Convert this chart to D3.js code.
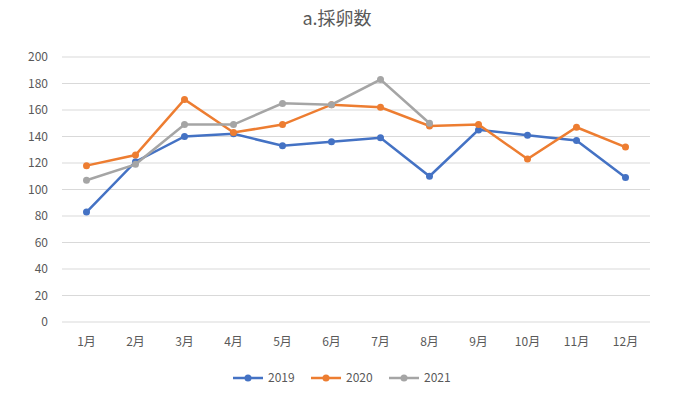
<!DOCTYPE html>
<html><head><meta charset="utf-8">
<script src="https://cdn.jsdelivr.net/npm/d3@7"></script>
<style>body{margin:0;background:#fff;font-family:"Noto Sans CJK JP","Noto Sans",sans-serif;}</style>
</head><body><svg width="674" height="402"></svg>
<script>
const months = ["1月","2月","3月","4月","5月","6月","7月","8月","9月","10月","11月","12月"];
const s2019 = [83,121,140,142,133,136,139,110,145,141,137,109];
const s2020 = [118,126,168,143,149,164,162,148,149,123,147,132];
const s2021 = [107,119,149,149,165,164,183,150];
const yTicks = [0,20,40,60,80,100,120,140,160,180,200];
const series = [
  {name:"2019", values:s2019, color:"#4472c4"},
  {name:"2020", values:s2020, color:"#ed7d31"},
  {name:"2021", values:s2021, color:"#a5a5a5"}
];

const svg = d3.select("svg");
const plotLeft = 62, plotRight = 650, plotTop = 57, plotBottom = 322;

const x = d3.scaleBand().domain(months).range([plotLeft, plotRight]);
const y = d3.scaleLinear().domain([0, 200]).range([plotBottom, plotTop]);

svg.append("text").attr("x", 337).attr("y", 25).attr("text-anchor", "middle")
  .attr("font-size", 18).attr("fill", "#595959").text("a.採卵数");

// grid
svg.append("g").selectAll("line").data(yTicks).join("line")
  .attr("x1", plotLeft).attr("x2", plotRight)
  .attr("y1", d => y(d)).attr("y2", d => y(d))
  .attr("stroke", "#d9d9d9").attr("stroke-width", 1);

svg.append("g").selectAll("text").data(yTicks).join("text")
  .attr("x", plotLeft - 14).attr("y", d => y(d) + 4).attr("text-anchor", "end")
  .attr("font-size", 12).attr("fill", "#595959").text(d => d);

svg.append("g").selectAll("text").data(months).join("text")
  .attr("x", d => x(d) + x.bandwidth() / 2).attr("y", plotBottom + 24)
  .attr("text-anchor", "middle").attr("font-size", 12).attr("fill", "#595959").text(d => d);

const line = d3.line().x((d, i) => x(months[i]) + x.bandwidth() / 2).y(d => y(d));

series.forEach(s => {
  const g = svg.append("g");
  g.append("path").datum(s.values).attr("d", line)
    .attr("fill", "none").attr("stroke", s.color).attr("stroke-width", 2.5);
  g.selectAll("circle").data(s.values).join("circle")
    .attr("cx", (d, i) => x(months[i]) + x.bandwidth() / 2).attr("cy", d => y(d))
    .attr("r", 3.5).attr("fill", s.color);
});

// legend
const lg = svg.append("g").selectAll("g").data(series).join("g")
  .attr("transform", (d, i) => `translate(${233 + i * 78},378)`);
lg.append("line").attr("x1", 0).attr("x2", 30).attr("stroke", d => d.color).attr("stroke-width", 2.5);
lg.append("circle").attr("cx", 15).attr("r", 3.5).attr("fill", d => d.color);
lg.append("text").attr("x", 35).attr("y", 4).attr("font-size", 12).attr("fill", "#595959").text(d => d.name);
</script></body></html>
